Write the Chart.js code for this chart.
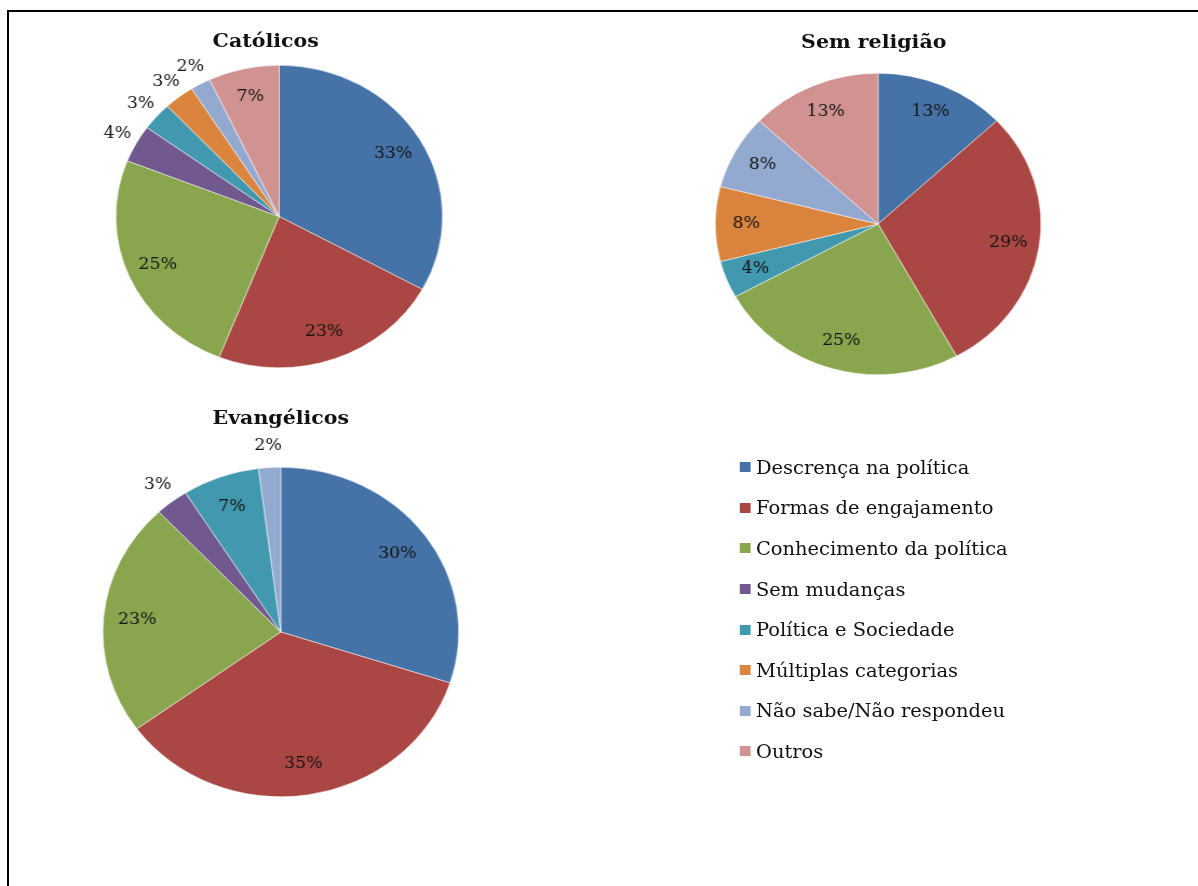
<!DOCTYPE html>
<html>
<head>
<meta charset="utf-8">
<script src="https://cdn.jsdelivr.net/npm/chart.js@4.4.1/dist/chart.umd.min.js"></script>
<style>
html, body { margin: 0; padding: 0; background: #fff; }
body { width: 1198px; height: 886px; position: relative; overflow: hidden; font-family: "DejaVu Serif", Georgia, serif; color: #111; }
#frameTop { position: absolute; left: 7px; top: 10px; width: 1191px; height: 2px; background: #000; }
#frameLeft { position: absolute; left: 7px; top: 10px; width: 2px; height: 876px; background: #000; }
/* the original picture is a little wider than tall, so the whole stage is stretched */
#stage { position: absolute; left: 0; top: 0; width: 1110px; height: 886px; transform: scaleX(1.08); transform-origin: 0 0; }
.pie { position: absolute; }
.title { position: absolute; width: 300px; margin-left: -150px; text-align: center; font-weight: bold; font-size: 19px; line-height: 22px; }
#legend { position: absolute; left: 685px; top: 447px; font-size: 18px; }
.item { height: 40.6px; display: flex; align-items: center; white-space: nowrap; }
.swatch { width: 10px; height: 10px; margin-right: 5px; }
</style>
</head>
<body>
<div id="frameTop"></div>
<div id="frameLeft"></div>
<div id="stage">
  <canvas id="catolicos" class="pie"></canvas>
  <canvas id="semReligiao" class="pie"></canvas>
  <canvas id="evangelicos" class="pie"></canvas>
  <div class="title" style="left:246px; top:29px;">Católicos</div>
  <div class="title" style="left:809px; top:30px;">Sem religião</div>
  <div class="title" style="left:260px; top:406px;">Evangélicos</div>
  <div id="legend"></div>
</div>
<script>
var categories = ['Descrença na política', 'Formas de engajamento', 'Conhecimento da política',
  'Sem mudanças', 'Política e Sociedade', 'Múltiplas categorias', 'Não sabe/Não respondeu', 'Outros'];
var colors = ['#4572A7', '#AA4643', '#89A54E', '#71588F', '#4198AF', '#DB843D', '#93A9CF', '#D19392'];

var catolicos = [33, 23, 25, 4, 3, 3, 2, 7];
var semReligiao = [13, 29, 25, 0, 4, 8, 8, 13];
var evangelicos = [30, 35, 23, 3, 7, 0, 2, 0];

// percent labels: inside the slice, or just outside for the thin ones
var pctLabels = {
  id: 'pctLabels',
  afterDatasetsDraw: function (chart, args, opts) {
    var ctx = chart.ctx;
    var meta = chart.getDatasetMeta(0);
    var data = chart.data.datasets[0].data;
    ctx.save();
    ctx.font = '16px "DejaVu Serif", Georgia, serif';
    ctx.fillStyle = '#151515';
    ctx.textAlign = 'center';
    ctx.textBaseline = 'middle';
    meta.data.forEach(function (arc, i) {
      var v = data[i];
      if (!v) return;
      var p = arc.getProps(['x', 'y', 'startAngle', 'endAngle', 'outerRadius'], true);
      var mid = (p.startAngle + p.endAngle) / 2;
      var k = v < opts.outsideBelow ? 1.13 : 0.81;
      ctx.fillText(v + '%', p.x + Math.cos(mid) * p.outerRadius * k, p.y + Math.sin(mid) * p.outerRadius * k);
    });
    ctx.restore();
  }
};

function makePie(id, values, cx, cy, r, outsideBelow) {
  var pad = 48;
  var size = Math.round(2 * r + 2 * pad);
  var canvas = document.getElementById(id);
  canvas.width = size;
  canvas.height = size;
  canvas.style.left = (cx - size / 2) + 'px';
  canvas.style.top = (cy - size / 2) + 'px';
  return new Chart(canvas, {
    type: 'pie',
    data: {
      labels: categories,
      datasets: [{ data: values, backgroundColor: colors, borderColor: '#fff', borderWidth: 0.5 }]
    },
    options: {
      responsive: false,
      animation: false,
      layout: { padding: pad },
      plugins: {
        legend: { display: false },
        tooltip: { enabled: false },
        pctLabels: { outsideBelow: outsideBelow }
      }
    },
    plugins: [pctLabels]
  });
}

makePie('catolicos', catolicos, 258, 216, 151.5, 5);
makePie('semReligiao', semReligiao, 813, 224, 151, 0);
makePie('evangelicos', evangelicos, 260, 632, 165, 5);

var legend = document.getElementById('legend');
categories.forEach(function (name, i) {
  var row = document.createElement('div');
  row.className = 'item';
  var sw = document.createElement('span');
  sw.className = 'swatch';
  sw.style.background = colors[i];
  var txt = document.createElement('span');
  txt.textContent = name;
  row.appendChild(sw);
  row.appendChild(txt);
  legend.appendChild(row);
});
</script>
</body>
</html>
